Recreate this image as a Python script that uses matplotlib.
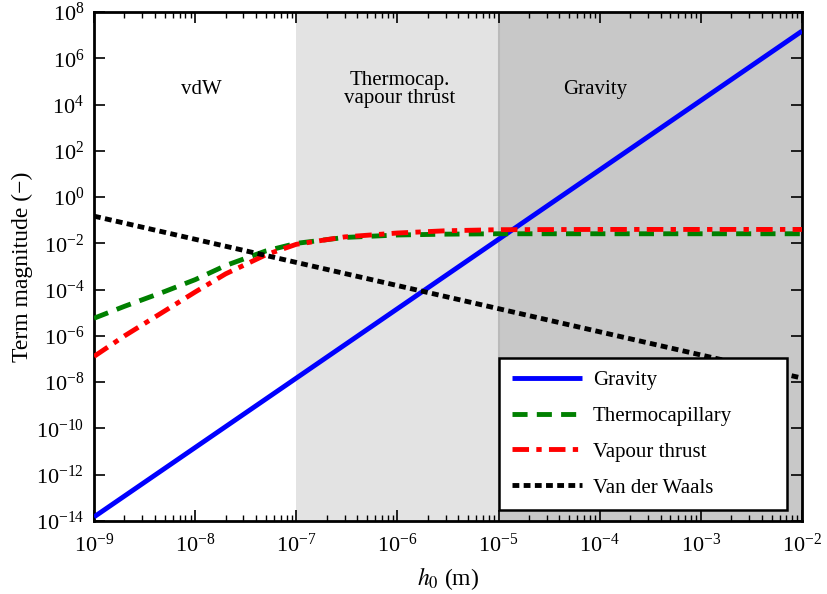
import numpy as np
import matplotlib
matplotlib.use("Agg")
import matplotlib.pyplot as plt

plt.rcParams['font.family'] = ['Liberation Serif', 'DejaVu Serif']
plt.rcParams['mathtext.fontset'] = 'stix'

# Data
h0_lines = [1e-9, 1e-8, 1e-7, 1e-6, 1e-5, 1e-4, 1e-3, 1e-2]
gravity = [1.5e-14, 1.5e-11, 1.5e-8, 1.5e-5, 1.5e-2, 1.5e1, 1.5e4, 1.5e7]
vdw = [0.15, 0.015, 1.5e-3, 1.5e-4, 1.5e-5, 1.5e-6, 1.5e-7, 1.5e-8]

h0_curves = [1e-9, 2e-9, 5e-9, 1e-8, 2e-8, 5e-8, 1e-7, 3e-7, 1e-6, 3e-6,
             1e-5, 1e-4, 1e-3, 1e-2]
thermocap = [5.8e-6, 1.9e-5, 8.3e-5, 2.7e-4, 1.1e-3, 4.7e-3, 1.0e-2, 1.8e-2,
             2.3e-2, 2.5e-2, 2.6e-2, 2.6e-2, 2.6e-2, 2.6e-2]
vapour = [1.3e-7, 1.0e-6, 1.2e-5, 7.9e-5, 4.8e-4, 3.2e-3, 9.1e-3, 1.9e-2,
          2.8e-2, 3.5e-2, 3.9e-2, 4.0e-2, 4.0e-2, 4.0e-2]

x_ticks = [1e-9, 1e-8, 1e-7, 1e-6, 1e-5, 1e-4, 1e-3, 1e-2]
y_ticks = [1e-14, 1e-12, 1e-10, 1e-8, 1e-6, 1e-4, 1e-2, 1e0, 1e2, 1e4, 1e6, 1e8]

regions = [(1e-7, 1e-5, '#e3e3e3'), (1e-5, 1e-2, '#c8c8c8')]
region_labels = [(1.15e-8, 'vdW'), (1.05e-6, 'Thermocap.\nvapour thrust'), (9e-5, 'Gravity')]

fig = plt.figure(figsize=(8.27, 5.94), dpi=100)
ax = fig.add_axes([0.1137, 0.1229, 0.9698 - 0.1137, 0.9798 - 0.1229])

for x0, x1, c in regions:
    ax.axvspan(x0, x1, color=c, lw=0, zorder=0)
ax.axvline(1e-5, color='#bababa', lw=1.5, zorder=0.5)

lw = 3.5
ax.plot(h0_lines, gravity, color='#0000ff', lw=lw, solid_capstyle='butt', label='Gravity', zorder=3)
ax.plot(h0_curves, thermocap, color='#008000', lw=lw, dashes=(3.1, 1.9), label='Thermocapillary', zorder=3)
ax.plot(h0_curves, vapour, color='#ff0000', lw=lw, dashes=(3.4, 1.5, 1.1, 1.5), label='Vapour thrust', zorder=3)
ax.plot(h0_lines, vdw, color='black', lw=lw, dashes=(1.4, 0.9), label='Van der Waals', zorder=3)

ax.set_xscale('log')
ax.set_yscale('log')
ax.set_xlim(1e-9, 1e-2)
ax.set_ylim(1e-14, 1e8)

ax.set_xticks(x_ticks)
ax.set_yticks(y_ticks)
ax.yaxis.set_minor_locator(matplotlib.ticker.NullLocator())
minor_x = [m * 10.0**k for k in range(-9, -2) for m in range(2, 10)]
ax.set_xticks(minor_x, minor=True)
ax.xaxis.set_minor_formatter(matplotlib.ticker.NullFormatter())

ax.tick_params(which='both', direction='in', top=True, right=True, labelsize=16)
ax.tick_params(which='major', length=8, width=1.2, pad=7)
ax.tick_params(axis='x', which='major', pad=9)
ax.tick_params(which='minor', length=4, width=1.0)
for s in ax.spines.values():
    s.set_linewidth(2)

for x, t in region_labels:
    ax.text(x, 4.5e4, t, ha='center', va='center', fontsize=15, linespacing=0.95)

ax.set_xlabel('$h_0$ (m)', fontsize=17, labelpad=6)
ax.set_ylabel('Term magnitude (−)', fontsize=17, labelpad=2)

leg = ax.legend(loc='lower left', bbox_to_anchor=(0.572, 0.0216, 0.4068, 0.3), mode='expand',
                borderaxespad=0, fontsize=15, handlelength=3.4, fancybox=False, framealpha=1,
                edgecolor='black', labelspacing=0.78, borderpad=0.6, handletextpad=0.5)
leg.get_frame().set_linewidth(1.8)
leg.set_zorder(5)

fig.savefig('out.png', dpi=100)
